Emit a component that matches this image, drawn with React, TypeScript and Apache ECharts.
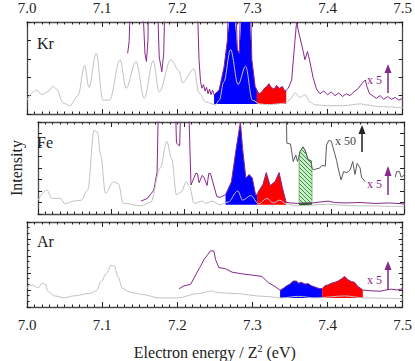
import React, { useEffect, useRef } from 'react';
import * as echarts from 'echarts';

// ---------- DATA (energy / Z^2 in eV, intensity in panel units 0..100) ----------
const xTicks = [7.0, 7.1, 7.2, 7.3, 7.4, 7.5];
const panelLabels = ['Kr', 'Fe', 'Ar'];

const krGray: number[][] = [
  [7.0, 15], [7.0084, 24], [7.0128, 26], [7.0194, 21], [7.027, 24], [7.0348, 30], [7.0393, 27], [7.048, 12], [7.0569, 9],
  [7.0679, 20], [7.0767, 53], [7.0824, 29], [7.0922, 66], [7.101, 15], [7.1098, 15], [7.1239, 59], [7.1319, 28],
  [7.1451, 57], [7.1561, 17], [7.168, 58], [7.1759, 24], [7.1915, 59], [7.2024, 47], [7.207, 34], [7.2222, 49],
  [7.229, 23], [7.238, 13], [7.251, 10], [7.256, 15], [7.262, 35], [7.271, 70], [7.281, 32], [7.291, 52],
  [7.3, 15], [7.31, 11], [7.32, 10], [7.334, 11], [7.345, 12], [7.35, 16], [7.357, 23], [7.363, 18], [7.37, 21],
  [7.377, 13], [7.383, 10], [7.4, 9], [7.42, 9], [7.445, 11], [7.45, 10], [7.47, 8], [7.5, 7],
];
const krPurple: number[][] = [
  [7.134, 66], [7.136, 79], [7.138, 140], [7.153, 140], [7.157, 66], [7.159, 57], [7.161, 80], [7.162, 140],
  [7.173, 140], [7.176, 62], [7.1795, 46], [7.182, 66], [7.184, 140], [7.226, 140], [7.229, 59], [7.231, 35],
  [7.233, 28], [7.235, 32], [7.237, 25], [7.239, 29], [7.241, 22], [7.243, 27], [7.245, 21], [7.247, 26],
  [7.249, 21], [7.2557, 26], [7.2623, 51], [7.2667, 80], [7.269, 140], [7.277, 140], [7.28, 70], [7.2825, 66],
  [7.285, 140], [7.297, 140], [7.2993, 59], [7.3037, 30], [7.306, 26], [7.309, 22], [7.3126, 24], [7.316, 28],
  [7.3192, 30], [7.322, 33], [7.325, 29], [7.329, 27], [7.332, 31], [7.336, 28], [7.34, 30], [7.343, 25],
  [7.345, 26], [7.3478, 28], [7.3523, 37], [7.3567, 80], [7.3589, 100], [7.3611, 91], [7.3677, 68], [7.3699, 59],
  [7.3734, 68], [7.376, 59], [7.381, 39], [7.3854, 27], [7.39, 22], [7.395, 25], [7.4, 21], [7.405, 24],
  [7.41, 20], [7.415, 23], [7.42, 19], [7.425, 22], [7.43, 20], [7.435, 24], [7.44, 27], [7.4458, 33],
  [7.4503, 37], [7.4524, 30], [7.456, 22], [7.46, 20], [7.465, 17], [7.47, 20], [7.475, 16], [7.48, 19],
  [7.485, 16], [7.49, 18], [7.495, 15], [7.5, 17],
];
const krFillBase: number[][] = [[7.249, 11], [7.345, 11]];
const krBlueRange = [7.249, 7.306];
const krRedRange = [7.306, 7.345];

const feGray: number[][] = [
  [7.0, 15], [7.0119, 26], [7.0194, 17], [7.03, 17], [7.0371, 11], [7.048, 14], [7.0591, 15], [7.0679, 26],
  [7.0767, 91], [7.0811, 89], [7.0856, 64], [7.0922, 22.5], [7.1032, 35], [7.1098, 33], [7.1164, 11.6],
  [7.1406, 9], [7.1538, 12.7], [7.1671, 50], [7.1759, 79], [7.1825, 60.5], [7.1892, 21], [7.1958, 24],
  [7.2024, 35], [7.2068, 30], [7.2134, 11.6], [7.2245, 14], [7.2288, 11.6], [7.2377, 14], [7.2487, 10],
  [7.2597, 13], [7.2729, 25], [7.2795, 15], [7.2906, 20], [7.3016, 11], [7.3126, 17], [7.3214, 12],
  [7.3303, 15], [7.339, 11], [7.3523, 9], [7.3964, 10.5], [7.4272, 9], [7.5, 8],
];
const fePurple: number[][] = [
  [7.1407, 14], [7.1495, 17], [7.1583, 26], [7.1627, 46], [7.165, 140], [7.187, 140], [7.1892, 77], [7.1935, 74],
  [7.1958, 140], [7.205, 140], [7.209, 31.5], [7.2155, 44], [7.2178, 44], [7.22, 34], [7.2244, 42], [7.2266, 40],
  [7.231, 31], [7.2333, 44], [7.2355, 44], [7.2377, 38], [7.2443, 19], [7.2487, 18], [7.2562, 21], [7.2642, 35],
  [7.2707, 71], [7.2765, 100], [7.2795, 71], [7.284, 39], [7.2884, 43], [7.2928, 39], [7.2972, 21], [7.2993, 21],
  [7.3016, 25], [7.3073, 32], [7.3118, 45], [7.317, 31], [7.3237, 35], [7.3294, 45], [7.3337, 29], [7.339, 12.7],
  [7.345, 12], [7.355, 11.5], [7.365, 12], [7.375, 12], [7.385, 13], [7.3964, 14], [7.405, 12.5], [7.42, 12],
  [7.44, 12.5], [7.46, 11.5], [7.48, 12], [7.5, 11],
];
const feX50: number[][] = [
  [7.339, 130], [7.3399, 77], [7.345, 76], [7.3469, 66], [7.3487, 57], [7.3522, 64], [7.3545, 57], [7.3567, 63],
  [7.358, 68], [7.362, 73], [7.365, 69], [7.369, 59], [7.373, 58], [7.3743, 50], [7.376, 48], [7.38, 49],
  [7.385, 50], [7.388, 53], [7.3925, 52], [7.3942, 75], [7.3972, 80], [7.4008, 79], [7.4052, 66], [7.408, 58],
  [7.4105, 48], [7.414, 37], [7.4175, 46], [7.422, 45], [7.4265, 48], [7.43, 57], [7.433, 43], [7.436, 55],
  [7.44, 50], [7.442, 40], [7.447, 35], [7.46, NaN], [7.488, 40], [7.49, 46], [7.494, 46], [7.496, 40], [7.5, 42],
];
const feFillBase: number[][] = [[7.2562, 10], [7.339, 10]];
const feBlueRange = [7.2562, 7.2993];
const feRedRange = [7.2993, 7.339];
const feGreenRange = [7.3567, 7.3743];

const arGray: number[][] = [
  [7.0, 23], [7.0066, 26], [7.0154, 22.6], [7.0194, 27.6], [7.0243, 27], [7.0282, 18], [7.037, 13], [7.0503, 10.7],
  [7.0613, 13], [7.0833, 16], [7.0922, 19], [7.0988, 30], [7.1054, 39], [7.112, 49], [7.1164, 48], [7.1208, 36],
  [7.1274, 21.5], [7.1385, 17], [7.1538, 14.7], [7.1759, 10.7], [7.2001, 10.7], [7.2288, 16], [7.242, 18],
  [7.2465, 19], [7.2531, 17], [7.2729, 16], [7.317, 12.5], [7.339, 10.7], [7.3611, 12.5], [7.3832, 10.7],
  [7.4229, 13], [7.4493, 10.7], [7.5, 9.7],
];
const arPurple: number[][] = [
  [7.2024, 21.5], [7.209, 25], [7.2178, 26.5], [7.2244, 37.6], [7.231, 48], [7.2354, 55.6], [7.2443, 66],
  [7.2487, 66], [7.2509, 56], [7.2553, 46.6], [7.2641, 45], [7.2729, 41], [7.2861, 39], [7.2993, 37.6],
  [7.3126, 36], [7.3214, 28.6], [7.3303, 24], [7.3369, 19.7], [7.3413, 22], [7.3457, 25], [7.3501, 27],
  [7.3545, 30.5], [7.3589, 30.5], [7.3611, 28], [7.3655, 29], [7.3699, 27], [7.3743, 27.5], [7.3787, 25],
  [7.3831, 23.6], [7.388, 22], [7.3929, 21.5], [7.3964, 25], [7.4008, 26], [7.4052, 28], [7.4096, 29],
  [7.414, 30.5], [7.4185, 33], [7.4229, 36], [7.4273, 32], [7.4317, 30], [7.4361, 29], [7.4405, 24],
  [7.4449, 21.5], [7.447, 20], [7.452, 19.5], [7.459, 19], [7.47, 18.5], [7.478, 20], [7.485, 21], [7.492, 20],
  [7.5, 21.5],
];
const arFillBase: number[][] = [[7.3369, 10.5], [7.447, 10.5]];
const arBlueRange = [7.3369, 7.3929];
const arRedRange = [7.3929, 7.447];

// ---------- helpers ----------
function interp(arr: number[][], x: number): number {
  const pts = arr.filter((p) => !isNaN(p[1]));
  if (x <= pts[0][0]) return pts[0][1];
  for (let i = 1; i < pts.length; i++) {
    if (x <= pts[i][0]) {
      const [x0, y0] = pts[i - 1];
      const [x1, y1] = pts[i];
      return x1 === x0 ? y1 : y0 + ((y1 - y0) * (x - x0)) / (x1 - x0);
    }
  }
  return pts[pts.length - 1][1];
}
function segment(arr: number[][], lo: number, hi: number): number[][] {
  const inner = arr.filter((p) => p[0] > lo && p[0] < hi && !isNaN(p[1]));
  return [[lo, interp(arr, lo)], ...inner, [hi, interp(arr, hi)]];
}
function band(upper: number[][], lower: number[][], range: number[]): number[][] {
  const u = segment(upper, range[0], range[1]);
  const l = segment(lower, range[0], range[1]).reverse();
  return [...u, ...l].map((p) => [p[0], Math.max(0, Math.min(100, p[1]))]);
}

const SERIF = "'Liberation Serif', 'DejaVu Serif', serif";
const FRAME = '#4a4a4a';
const GRAY = '#c2c2c2';
const PURPLE = '#86298a';

function makeHatch(): any {
  const c = document.createElement('canvas');
  c.width = 4;
  c.height = 4;
  const ctx = c.getContext('2d')!;
  ctx.fillStyle = '#cfeccf';
  ctx.fillRect(0, 0, 4, 4);
  ctx.strokeStyle = '#2f9a2f';
  ctx.lineWidth = 1;
  ctx.beginPath();
  ctx.moveTo(-1, -1);
  ctx.lineTo(5, 5);
  ctx.moveTo(-1, 3);
  ctx.lineTo(1, 5);
  ctx.moveTo(3, -1);
  ctx.lineTo(5, 1);
  ctx.stroke();
  return { image: c, repeat: 'repeat' };
}

export default function App() {
  const ref = useRef<HTMLDivElement>(null);
  useEffect(() => {
    if (!ref.current) return;
    const chart = echarts.init(ref.current, null, { renderer: 'svg' });
    const hatch = makeHatch();

    const grids = [
      { left: 27, width: 377, top: 22, height: 92 },
      { left: 27, width: 377, top: 122, height: 92 },
      { left: 27, width: 377, top: 222, height: 93 },
    ];
    const yIntervals = [20, 12.5, 20];

    const xAxis: any[] = [];
    const yAxis: any[] = [];
    grids.forEach((_, gi) => {
      ['bottom', 'top'].forEach((pos) => {
        const showLabel = (gi === 0 && pos === 'top') || (gi === 2 && pos === 'bottom');
        xAxis.push({
          type: 'value',
          gridIndex: gi,
          position: pos,
          min: xTicks[0],
          max: xTicks[xTicks.length - 1],
          interval: 0.1,
          axisLine: { show: true, onZero: false, lineStyle: { color: FRAME, width: 1.3 } },
          axisTick: { show: true, inside: true, length: 5, lineStyle: { color: '#222' } },
          minorTick: { show: true, splitNumber: 10, length: 2.5, lineStyle: { color: '#222' } },
          splitLine: { show: false },
          minorSplitLine: { show: false },
          axisLabel: {
            show: showLabel,
            formatter: (v: number) => v.toFixed(1),
            fontFamily: SERIF,
            fontSize: 15,
            color: '#222',
            margin: pos === 'top' ? 7 : 10,
          },
          ...(gi === 2 && pos === 'bottom'
            ? {
                name: '{a|Electron energy / Z}{s|2}{a| (eV)}',
                nameLocation: 'middle',
                nameGap: 36,
                nameTextStyle: {
                  rich: {
                    a: { fontFamily: SERIF, fontSize: 16, color: '#222' },
                    s: { fontFamily: SERIF, fontSize: 10, color: '#222', verticalAlign: 'top', padding: [0, 0, 8, 0] },
                  },
                },
              }
            : {}),
        });
      });
      ['left', 'right'].forEach((pos) => {
        yAxis.push({
          type: 'value',
          gridIndex: gi,
          position: pos,
          min: 0,
          max: 100,
          interval: yIntervals[gi],
          axisLine: { show: true, lineStyle: { color: FRAME, width: 1.3 } },
          axisTick: { show: true, inside: true, length: 4, lineStyle: { color: '#222' } },
          minorTick: { show: gi === 2, splitNumber: 3, length: 2.5, lineStyle: { color: '#222' } },
          splitLine: { show: false },
          axisLabel: { show: false },
          ...(gi === 1 && pos === 'left'
            ? {
                name: 'Intensity',
                nameLocation: 'middle',
                nameRotate: 90,
                nameGap: 14,
                nameTextStyle: { fontFamily: SERIF, fontSize: 16, color: '#222' },
              }
            : {}),
        });
      });
    });

    const line = (gi: number, data: number[][], color: string, width = 1, z = 3, smooth: number | boolean = false) => ({
      type: 'line',
      xAxisIndex: gi * 2,
      yAxisIndex: gi * 2,
      data,
      showSymbol: false,
      symbol: 'none',
      clip: true,
      connectNulls: false,
      smooth,
      smoothMonotone: 'x',
      lineStyle: { color, width },
      z,
    });

    const fills = (gi: number, regions: { pts: number[][]; fill: any; stroke?: string }[]) => ({
      type: 'custom',
      xAxisIndex: gi * 2,
      yAxisIndex: gi * 2,
      data: regions.map((r) => [r.pts[0][0], 0]),
      z: 2,
      renderItem: (params: any, api: any) => {
        const r = regions[params.dataIndex];
        return {
          type: 'polygon',
          shape: { points: r.pts.map((p) => api.coord(p)) },
          style: { fill: r.fill, stroke: r.stroke || 'none', lineWidth: r.stroke ? 0.8 : 0 },
        };
      },
    });

    const series: any[] = [
      fills(0, [
        { pts: band(krPurple, krFillBase, krBlueRange), fill: '#0000ff' },
        { pts: band(krPurple, krFillBase, krRedRange), fill: '#ff0000' },
      ]),
      line(0, krPurple, PURPLE, 1, 3),
      line(0, krGray, GRAY, 1, 4, 0.35),

      fills(1, [
        { pts: band(fePurple, feFillBase, feBlueRange), fill: '#0000ff' },
        { pts: band(fePurple, feFillBase, feRedRange), fill: '#ff0000' },
        { pts: band(feX50, fePurple, feGreenRange), fill: hatch, stroke: '#55b055' },
        { pts: band(fePurple, feGray, feGreenRange), fill: '#0a6a0a' },
      ]),
      line(1, fePurple, PURPLE, 1, 3),
      line(1, feX50, '#5a5a5a', 1, 3),
      line(1, feGray, GRAY, 1, 4, 0.35),

      fills(2, [
        { pts: band(arPurple, arFillBase, arBlueRange), fill: '#0000ff' },
        { pts: band(arPurple, arFillBase, arRedRange), fill: '#ff0000' },
      ]),
      line(2, arPurple, PURPLE, 1, 3),
      line(2, arGray, GRAY, 1, 4, 0.35),
    ];

    const arrow = (x: number, top: number, base: number, bottom: number, color: string) => [
      { type: 'line', shape: { x1: x, y1: base, x2: x, y2: bottom }, style: { stroke: color, lineWidth: 1.5 }, z: 10 },
      {
        type: 'polygon',
        shape: { points: [[x - 3.5, base], [x, top], [x + 3.5, base]] },
        style: { fill: color },
        z: 10,
      },
    ];
    const txt = (x: number, y: number, text: string, size: number, color: string) => ({
      type: 'text',
      x,
      y,
      style: { text, fontFamily: SERIF, fontSize: size, fill: color, textVerticalAlign: 'middle', textAlign: 'left' },
      z: 10,
    });

    chart.setOption({
      animation: false,
      backgroundColor: '#ffffff',
      grid: grids,
      xAxis,
      yAxis,
      series,
      graphic: [
        txt(37, 43, panelLabels[0], 16, '#222'),
        txt(37, 142, panelLabels[1], 16, '#222'),
        txt(37, 241, panelLabels[2], 16, '#222'),
        txt(367, 80, 'x 5', 12, PURPLE),
        txt(367, 184, 'x 5', 12, PURPLE),
        txt(367, 280, 'x 5', 12, PURPLE),
        txt(335, 141, 'x 50', 12, '#444'),
        ...arrow(388, 64, 73, 93, PURPLE),
        ...arrow(388, 166, 176, 195, PURPLE),
        ...arrow(388, 261, 270, 290, PURPLE),
        ...arrow(362, 125, 134, 152, '#222'),
      ],
    });
    return () => chart.dispose();
  }, []);

  return <div ref={ref} style={{ width: 415, height: 361, position: 'absolute', left: 0, top: 0 }} />;
}
